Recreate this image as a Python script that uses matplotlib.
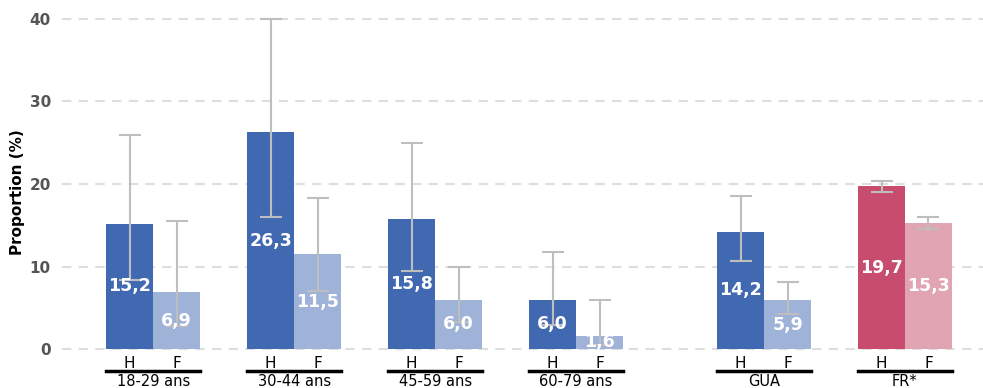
import numpy as np
import matplotlib.pyplot as plt
from matplotlib.lines import Line2D

# Proportions (%) by group, men (H) and women (F), with 95% CI bounds
groups = ['18-29 ans', '30-44 ans', '45-59 ans', '60-79 ans', 'GUA', 'FR*']
group_pos = [0, 3, 6, 9, 13, 16]
men = [15.2, 26.3, 15.8, 6.0, 14.2, 19.7]
men_low = [8.4, 16.0, 9.5, 2.9, 10.7, 19.0]
men_high = [25.9, 40.0, 25.0, 11.8, 18.6, 20.4]
women = [6.9, 11.5, 6.0, 1.6, 5.9, 15.3]
women_low = [2.8, 7.0, 3.3, 0.5, 4.3, 14.6]
women_high = [15.5, 18.3, 10.0, 5.9, 8.1, 16.0]

blue, light_blue = '#4169B2', '#9FB3D9'
red, pink = '#C84C6E', '#E1A4B2'
men_colors = [blue] * 5 + [red]
women_colors = [light_blue] * 5 + [pink]

fig = plt.figure(figsize=(9.83, 3.88), dpi=100)
ax = fig.add_axes([62 / 983, (388 - 351.5) / 388, 921 / 983, 337.5 / 388])

pos = np.array(group_pos, dtype=float)
xh = pos - 0.5
xf = pos + 0.5
w = 1.0

ax.bar(xh, men, width=w, color=men_colors, zorder=2)
ax.bar(xf, women, width=w, color=women_colors, zorder=2)

err_kw = dict(fmt='none', ecolor='#BEBEBE', elinewidth=1.5, capsize=8,
              capthick=1.5, zorder=3)
m = np.array(men)
f = np.array(women)
ax.errorbar(xh, m, yerr=[m - np.array(men_low), np.array(men_high) - m], **err_kw)
ax.errorbar(xf, f, yerr=[f - np.array(women_low), np.array(women_high) - f], **err_kw)

# value labels, centred inside each bar
for x, v in list(zip(xh, men)) + list(zip(xf, women)):
    ax.text(x, v / 2, f'{v:.1f}'.replace('.', ','), ha='center', va='center',
            color='white', fontsize=12.5, fontweight='bold', zorder=4)

ax.set_xlim(-1.94, 17.66)
ax.set_ylim(-0.3, 40.6)
ax.set_yticks([0, 10, 20, 30, 40])
ax.set_xticks(np.concatenate([xh, xf]))
ax.set_xticklabels(['H'] * len(xh) + ['F'] * len(xf))
ax.tick_params(axis='x', length=0, pad=3, labelsize=11)
ax.tick_params(axis='y', length=0, pad=8, labelsize=11, labelcolor='#555555')
for lab in ax.get_yticklabels():
    lab.set_fontweight('bold')

ax.yaxis.grid(True, color='#DEDEDE', linewidth=1.5, linestyle=(0, (4.5, 3.5)), zorder=0)
ax.set_axisbelow(True)
for s in ax.spines.values():
    s.set_visible(False)

ax.set_ylabel('Proportion (%)', fontsize=11, fontweight='bold')
ax.yaxis.set_label_coords((25 - 62) / 921, (351.5 - 192) / 337.5)

# group underline and name beneath the H/F ticks
trans = ax.get_xaxis_transform()
line_y = (351.5 - 371) / 337.5
text_y = (351.5 - 374) / 337.5
for p, name in zip(pos, groups):
    ax.add_line(Line2D([p - 1, p + 1], [line_y, line_y], color='black', lw=2.5,
                       transform=trans, clip_on=False))
    ax.text(p, text_y, name, ha='center', va='top', fontsize=10.5,
            transform=trans, clip_on=False)

fig.savefig('out.png', dpi=100)
